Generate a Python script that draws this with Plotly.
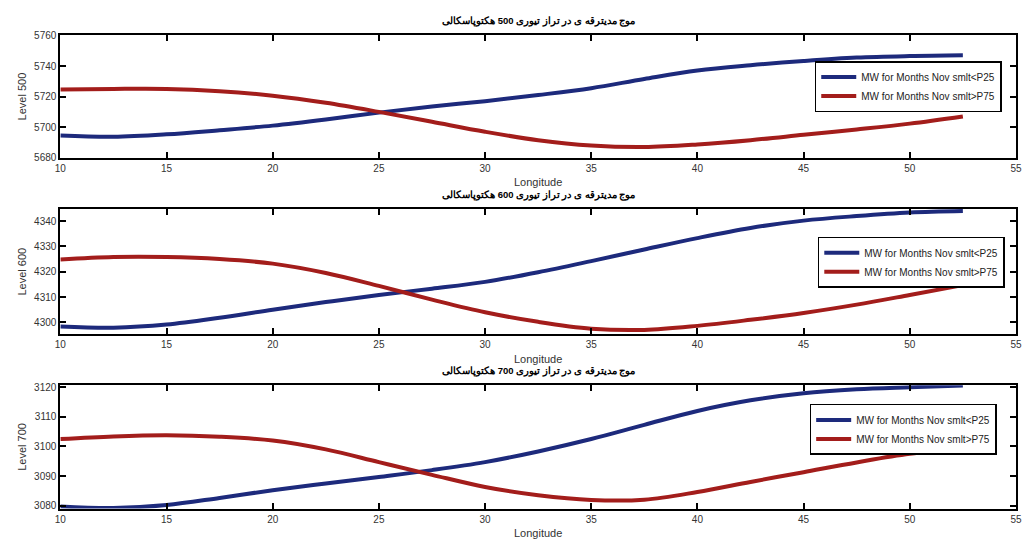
import plotly.graph_objects as go

# Longitude sample points (degrees East)
lon = [10, 12.5, 15, 17.5, 20, 22.5, 25, 27.5, 30, 32.5, 35, 37.5, 40, 42.5, 45, 47.5, 50, 52.5]

# 500 hPa geopotential height
p25_500 = [5694.5, 5693.7, 5695.3, 5698, 5701, 5705, 5709.5, 5713.5, 5717, 5721, 5725.5, 5731.5, 5737, 5740.5, 5743.3, 5745.5, 5746.5, 5747]
p75_500 = [5724.6, 5725, 5725, 5723.5, 5720.6, 5716, 5710, 5703.5, 5697, 5691.5, 5688, 5687, 5688.7, 5691.5, 5695, 5698.5, 5702.3, 5707]

# 600 hPa geopotential height
p25_600 = [4298.4, 4297.9, 4299.1, 4301.8, 4305, 4308, 4310.8, 4313.3, 4316, 4319.8, 4324.2, 4328.8, 4333.3, 4337.3, 4340.2, 4342, 4343.4, 4344]
p75_600 = [4324.8, 4325.8, 4325.8, 4325, 4323.2, 4319.5, 4314.4, 4309, 4304, 4300.2, 4297.5, 4297, 4298.6, 4301, 4303.7, 4307, 4310.8, 4314.7]

# 700 hPa geopotential height
p25_700 = [3079.7, 3079.2, 3080.2, 3082.6, 3085.2, 3087.5, 3089.7, 3092, 3094.7, 3098.3, 3102.5, 3107.3, 3112, 3115.6, 3118, 3119.3, 3120, 3120.6]
p75_700 = [3102.5, 3103.4, 3103.8, 3103.3, 3102, 3099, 3094.7, 3090.4, 3086.3, 3083.5, 3081.9, 3082, 3084.6, 3088, 3091.3, 3094.6, 3097.5, 3099.2]

levels = ["500", "600", "700"]
p25_series = [p25_500, p25_600, p25_700]
p75_series = [p75_500, p75_600, p75_700]
y_ranges = [[5680, 5760], [4295.2, 4344.8], [3079, 3120.7]]
y_ticks = [[5680, 5700, 5720, 5740, 5760], [4300, 4310, 4320, 4330, 4340], [3080, 3090, 3100, 3110, 3120]]
x_ticks = [10, 15, 20, 25, 30, 35, 40, 45, 50, 55]

BLUE = "#1d2a7c"
RED = "#a31d1b"
FONT = "Liberation Sans, Arial, sans-serif"

# Plot-area domains in paper coordinates (top to bottom)
y_domains = [[0.714, 0.943], [0.383, 0.618], [0.057, 0.288]]
x_domain = [0.0536, 0.996]
legend_pos = [(0.982, 0.895), (0.985, 0.566), (0.977, 0.253)]

fig = go.Figure()

for i, lvl in enumerate(levels):
    n = "" if i == 0 else str(i + 1)
    leg = "legend" + n
    fig.add_trace(go.Scatter(
        x=lon, y=p25_series[i], mode="lines", line=dict(color=BLUE, width=4, shape="spline"),
        name="MW for Months Nov smlt<P25", xaxis="x" + n, yaxis="y" + n, legend=leg))
    fig.add_trace(go.Scatter(
        x=lon, y=p75_series[i], mode="lines", line=dict(color=RED, width=4, shape="spline"),
        name="MW for Months Nov smlt>P75", xaxis="x" + n, yaxis="y" + n, legend=leg))

    axis_common = dict(
        showline=True, mirror="ticks", linecolor="black", linewidth=2,
        ticks="inside", ticklen=6, tickwidth=2, tickcolor="black",
        showgrid=False, zeroline=False, ticklabeloverflow="allow",
        tickfont=dict(family=FONT, size=10, color="#333"),
    )
    fig.layout["xaxis" + n] = dict(
        axis_common, domain=x_domain, range=[10, 55], tickvals=x_ticks,
        anchor="y" + n,
        title=dict(text="Longitude", font=dict(family=FONT, size=11, color="#333"), standoff=6),
    )
    fig.layout["yaxis" + n] = dict(
        axis_common, domain=y_domains[i], range=y_ranges[i], tickvals=y_ticks[i],
        anchor="x" + n,
        title=dict(text="Level " + lvl, font=dict(family=FONT, size=11, color="#333"), standoff=5),
    )
    fig.layout[leg] = dict(
        x=legend_pos[i][0], y=legend_pos[i][1], xanchor="right", yanchor="top",
        bgcolor="white", bordercolor="black", borderwidth=1.5,
        font=dict(family=FONT, size=10, color="#222"),
        itemwidth=35, tracegroupgap=0,
    )
    fig.add_annotation(
        xref="paper", yref="paper", x=(x_domain[0] + x_domain[1]) / 2, y=y_domains[i][1] + 0.012,
        xanchor="center", yanchor="bottom", showarrow=False,
        text="<b>موج مدیترقه ی در تراز تیوری " + lvl + " هکتوپاسکالی</b>",
        font=dict(family=FONT, size=9.5, color="black"),
    )

fig.update_layout(
    width=1026, height=545,
    margin=dict(l=0, r=0, t=0, b=0),
    paper_bgcolor="white", plot_bgcolor="white",
)

fig.write_html("out.html")
